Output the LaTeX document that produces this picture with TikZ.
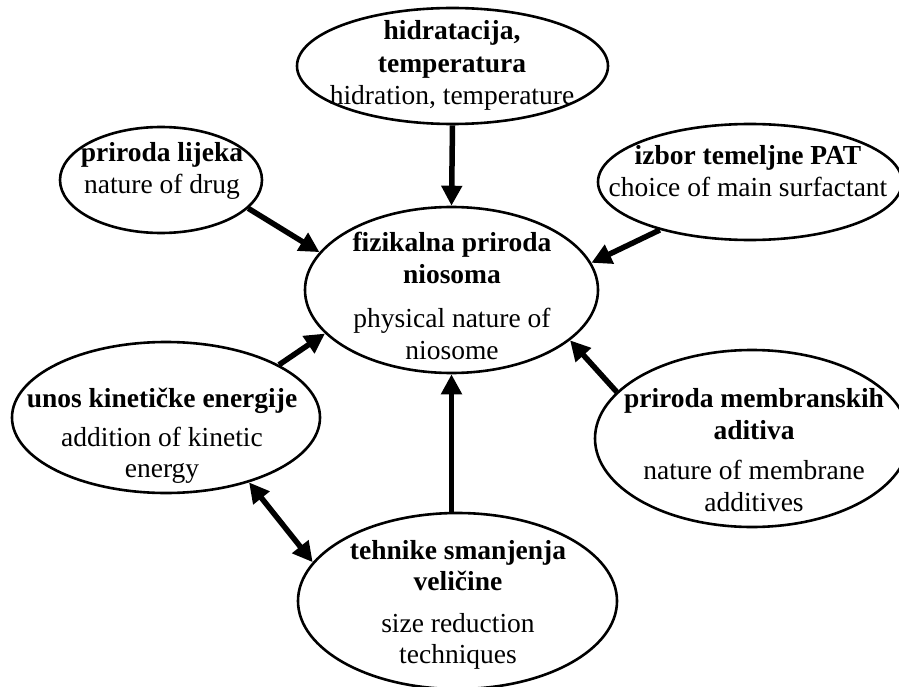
\documentclass[tikz,border=0pt]{standalone}
\usepackage{fontspec}
\setmainfont{Liberation Serif}
\usetikzlibrary{shapes.geometric,arrows.meta}
\begin{document}
\begin{tikzpicture}[x=1pt,y=-1pt,
  bub/.style={ellipse,draw,line width=2.6pt,inner sep=0pt},
  txt/.style={align=center,inner sep=0pt,font=\fontsize{27.5}{31.5}\selectfont},
  arr/.style={line width=5.5pt,-{Triangle[length=20pt,width=20pt]}},
  darr/.style={line width=5.5pt,{Triangle[length=20pt,width=20pt]}-{Triangle[length=20pt,width=20pt]}}]
\useasboundingbox (0,0) rectangle (899,687);
% ellipses
\node[bub,minimum width=311pt,minimum height=116pt] (T) at (452.5,66) {};
\node[bub,minimum width=202pt,minimum height=106pt] (L) at (161,180) {};
\node[bub,minimum width=304pt,minimum height=116pt] (I) at (750,182) {};
\node[bub,minimum width=293pt,minimum height=166pt] (C) at (451.5,290) {};
\node[bub,minimum width=308pt,minimum height=151pt] (U) at (166,417.5) {};
\node[bub,minimum width=314pt,minimum height=177pt] (M) at (752,438.5) {};
\node[bub,minimum width=319pt,minimum height=176pt] (TE) at (457.5,601) {};
% texts
\node[txt] (Tt) at (452,65) {\textbf{hidratacija,}\\[2pt]\textbf{temperatura}\\hidration, temperature};
\node[txt] (Lt) at (162,171) {\textbf{priroda lijeka}\\nature of drug};
\node[txt] (It) at (748,171) {\textbf{izbor temeljne PAT}\\choice of main surfactant};
\node[txt] (Ct) at (452,296) {\textbf{fizikalna priroda}\\\textbf{niosoma}\\[13pt]physical nature of\\niosome};
\node[txt] (Ut) at (162,436) {\textbf{unos kinetičke energije}\\[7pt]addition of kinetic\\energy};
\node[txt] (Mt) at (754,450) {\textbf{priroda membranskih}\\\textbf{aditiva}\\[9pt]nature of membrane\\additives};
\node[txt] (TEt) at (458,605) {\textbf{tehnike smanjenja}\\\textbf{veličine}\\[10pt]size reduction\\techniques};
% arrows
\draw[arr] (T.south) -- (C.north);
\draw[arr] (L.-18) -- (C.164.5);
\draw[arr] (I.-152) -- (C.11);
\draw[arr] (U.25.3) -- (C.-161);
\draw[arr] (M.161.6) -- (C.-23.4);
\draw[arr] (C.south |- TE.north) -- (C.south);
\draw[darr] (U.-38) -- (TE.165);
\end{tikzpicture}
\end{document}
